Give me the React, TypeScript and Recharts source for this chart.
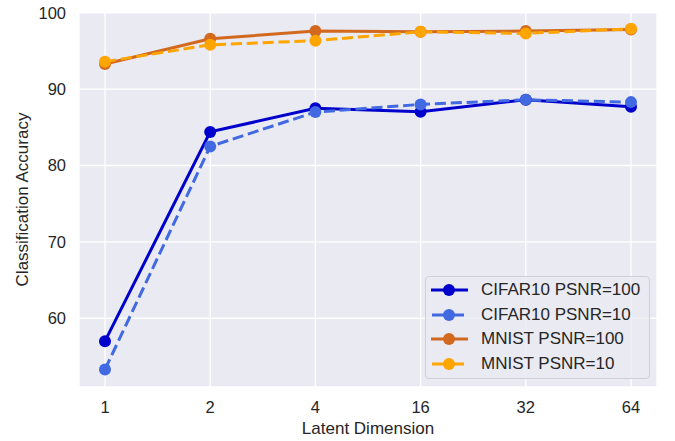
import React from 'react';
import { LineChart, Line, XAxis, YAxis, CartesianGrid, Legend } from 'recharts';

const dims = ['1', '2', '4', '16', '32', '64'];
const cifar100 = [57.0, 84.4, 87.5, 87.05, 88.6, 87.7];
const cifar10 = [53.3, 82.5, 87.0, 88.0, 88.6, 88.3];
const mnist100 = [93.3, 96.6, 97.6, 97.5, 97.6, 97.8];
const mnist10 = [93.6, 95.8, 96.35, 97.5, 97.3, 97.9];
const yTicks = [60, 70, 80, 90, 100];

const series = [
  { key: 'c100', name: 'CIFAR10 PSNR=100', color: '#0000CD', dashed: false, values: cifar100 },
  { key: 'c10', name: 'CIFAR10 PSNR=10', color: '#4169E1', dashed: true, values: cifar10 },
  { key: 'm100', name: 'MNIST PSNR=100', color: '#D2691E', dashed: false, values: mnist100 },
  { key: 'm10', name: 'MNIST PSNR=10', color: '#FFA500', dashed: true, values: mnist10 },
];

const data = dims.map((d, i) => {
  const row: any = { dim: d };
  series.forEach((s) => (row[s.key] = s.values[i]));
  return row;
});

const FONT = 'Liberation Sans, Arial, sans-serif';
const TEXT = '#262626';

const renderLegend = () => (
  <div
    style={{
      width: 223,
      height: 100,
      border: '1px solid #cfcfd6',
      borderRadius: 4,
      background: 'rgba(234,234,242,0.8)',
      fontFamily: FONT,
      fontSize: 17,
      color: TEXT,
      paddingTop: 1,
      boxSizing: 'content-box',
    }}
  >
    {series.map((s) => (
      <div key={s.key} style={{ height: 24.5, display: 'flex', alignItems: 'center' }}>
        <svg width={55} height={24} style={{ flex: 'none' }}>
          <line x1={s.dashed ? 6 : 5} x2={s.dashed ? 38 : 42} y1={12} y2={12} stroke={s.color} strokeWidth={3} />
          <circle cx={23} cy={12} r={6} fill={s.color} />
        </svg>
        <span style={{ whiteSpace: 'nowrap' }}>{s.name}</span>
      </div>
    ))}
  </div>
);

export default function App() {
  return (
    <div style={{ position: 'absolute', left: 0, top: 0, background: '#fff' }}>
      <LineChart
        width={675}
        height={441}
        data={data}
        margin={{ top: 12, right: 18, left: 0, bottom: 0 }}
        style={{ fontFamily: FONT }}
      >
        <CartesianGrid fill="#EAEAF2" stroke="#ffffff" strokeWidth={1.3} strokeDasharray="" />
        <XAxis
          dataKey="dim"
          height={54}
          padding={{ left: 26, right: 26 }}
          axisLine={false}
          tickLine={false}
          tickSize={0}
          tickMargin={14}
          tick={{ fill: TEXT, fontSize: 16.5, fontFamily: FONT }}
          label={{ value: 'Latent Dimension', position: 'insideBottom', offset: 7, fill: TEXT, fontSize: 17, fontFamily: FONT }}
        />
        <YAxis
          width={79}
          domain={[51.0, 100.1]}
          ticks={yTicks}
          allowDataOverflow
          axisLine={false}
          tickLine={false}
          tickSize={0}
          tickMargin={13}
          tick={{ fill: TEXT, fontSize: 16.5, fontFamily: FONT }}
          label={{
            content: (props: any) => {
              const vb = props.viewBox || { x: 0, y: 12, width: 79, height: 375 };
              const x = vb.x + 27.5;
              const y = vb.y + vb.height / 2;
              return (
                <text
                  x={x}
                  y={y}
                  transform={`rotate(-90, ${x}, ${y})`}
                  textAnchor="middle"
                  fill={TEXT}
                  fontSize={17}
                  fontFamily={FONT}
                >
                  Classification Accuracy
                </text>
              );
            },
          }}
        />
        {series.map((s) => (
          <Line
            key={s.key}
            dataKey={s.key}
            name={s.name}
            type="linear"
            stroke={s.color}
            strokeWidth={3}
            strokeDasharray={s.dashed ? '11.1 4.8' : undefined}
            dot={{ r: 6, fill: s.color, stroke: s.color, strokeWidth: 0, strokeDasharray: '' }}
            activeDot={false}
            isAnimationActive={false}
          />
        ))}
        <Legend
          layout="vertical"
          align="center"
          verticalAlign="middle"
          content={renderLegend}
          wrapperStyle={{ position: 'absolute', left: 425, top: 276, width: 225, height: 102 }}
        />
      </LineChart>
    </div>
  );
}
